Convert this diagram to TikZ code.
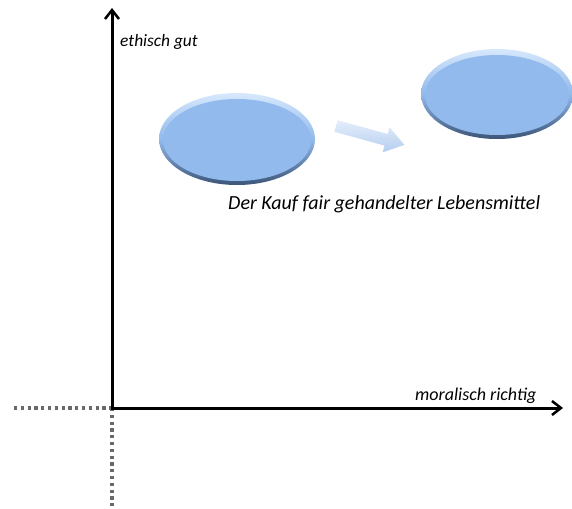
\documentclass[tikz,border=0pt]{standalone}
\usepackage{fontspec}
\setmainfont{Carlito}
\usetikzlibrary{arrows.meta,shapes.geometric}
\definecolor{elfill}{RGB}{146,186,236}
\definecolor{eltop}{RGB}{215,232,252}
\definecolor{elbot}{RGB}{60,85,120}
\definecolor{arrowblue}{RGB}{180,206,240}
\definecolor{dotgray}{RGB}{105,105,105}
\tikzset{
  axis/.style={line width=3pt,-{Straight Barb[length=9pt,width=14pt,line width=2.5pt]}},
  dotline/.style={dotgray,line width=3.2pt,dash pattern=on 3.2pt off 3.6pt},
  lbl/.style={font=\itshape\fontsize{18}{20}\selectfont,inner sep=0pt},
}
\newcommand{\bevelellipse}[4]{%
  \shade[top color=eltop,bottom color=elbot,middle color=elfill] (#1,#2) ellipse [x radius=#3,y radius=#4];
  \fill[elfill] (#1,#2+1) ellipse [x radius=#3-4,y radius=#4-5];
}
\begin{document}
\begin{tikzpicture}[x=1pt,y=-1pt]
\useasboundingbox (0,0) rectangle (572,508);
% ellipses
\bevelellipse{237}{139}{78}{46}
\bevelellipse{497}{94}{76}{45}
\node[draw=none,minimum width=156pt,minimum height=92pt,ellipse,inner sep=0pt] (e1) at (237,139) {};
\node[draw=none,minimum width=152pt,minimum height=90pt,ellipse,inner sep=0pt] (e2) at (497,94) {};
% arrow
\coordinate (atail) at (336,126);
\coordinate (atip) at (405,107);
\begin{scope}[rotate around={-15.4:(atail)}]
\shade[left color=arrowblue!35,right color=arrowblue,shading angle=0]
  (336,120) -- (388,120) -- (388,113) -- (407,126) -- (388,139) -- (388,132) -- (336,132) -- cycle;
\end{scope}
% axes
\coordinate (o) at (112,408);
\coordinate (ytip) at (112,8);
\coordinate (xtip) at (563,408);
\coordinate (dl) at (14,408);
\coordinate (db) at (112,506);
\draw[dotline] (dl) -- (o);
\draw[dotline] (o) -- (db);
\draw[axis] ([yshift=-1.5pt]o) -- (ytip);
\draw[axis] ([xshift=-1.5pt]o) -- (xtip);
% labels
\node[lbl,anchor=west,font=\itshape\fontsize{17.4}{20}\selectfont] (l1) at (120,42) {ethisch gut};
\node[lbl,anchor=west,font=\itshape\fontsize{20}{22}\selectfont] (l2) at (228,204) {Der Kauf fair gehandelter Lebensmittel};
\node[lbl,anchor=west,font=\itshape\fontsize{18}{20}\selectfont] (l3) at (415,396) {moralisch richtig};
\end{tikzpicture}
\end{document}
